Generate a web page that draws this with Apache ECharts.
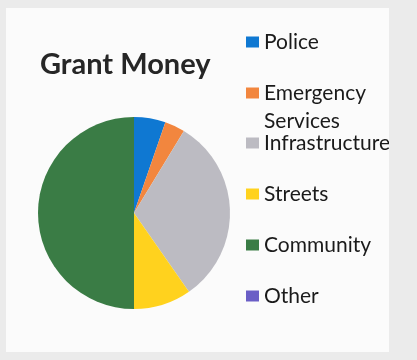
<!DOCTYPE html>
<html>
<head>
<meta charset="utf-8">
<script src="https://cdn.jsdelivr.net/npm/echarts@6/dist/echarts.min.js"></script>
<style>
  html, body { margin: 0; padding: 0; background: #ebebeb; width: 417px; height: 360px; overflow: hidden; }
  #chart { position: absolute; left: 6px; top: 8px; width: 383px; height: 344px; background: #fbfbfb; }
</style>
</head>
<body>
<div id="chart"></div>
<script>
// Grant money split by program area (percent of total)
const categories = ['Police', 'Emergency Services', 'Infrastructure', 'Streets', 'Community', 'Other'];
const shares = [5.3, 3.4, 31.6, 9.7, 50.0, 0];
const sliceColors = ['#0f78d2', '#f2863e', '#bcbbc2', '#ffd21e', '#3a7c45', '#6a5ec6'];
const chartTitle = 'Grant Money';

const chart = echarts.init(document.getElementById('chart'));

const legendFont = { fontFamily: 'Lato', fontSize: 21, color: '#1a1a1a', lineHeight: 24 };
const legendBase = {
  orient: 'vertical',
  left: 240,
  padding: 0,
  itemWidth: 13,
  itemHeight: 11,
  icon: 'rect',
  selectedMode: false,
  textStyle: legendFont
};

chart.setOption({
  color: sliceColors,
  title: {
    text: chartTitle,
    left: 34,
    top: 42,
    padding: 0,
    textStyle: { fontFamily: 'Lato', fontWeight: 'bold', fontSize: 29, color: '#262626' }
  },
  legend: [
    Object.assign({}, legendBase, { top: 22, data: [categories[0]] }),
    // the long name wraps; a blank leading line keeps its first line level with the swatch
    Object.assign({}, legendBase, {
      top: 43,
      data: [categories[1]],
      formatter: name => '\n' + name.replace(' ', '\n'),
      textStyle: Object.assign({}, legendFont, { lineHeight: 28 })
    }),
    Object.assign({}, legendBase, { top: 123, itemGap: 27, data: categories.slice(2) })
  ],
  series: [{
    type: 'pie',
    center: [128, 205],
    radius: 96,
    startAngle: 90,
    clockwise: true,
    label: { show: false },
    labelLine: { show: false },
    emphasis: { disabled: true },
    itemStyle: { borderWidth: 0 },
    data: categories.map((name, i) => ({ name, value: shares[i] }))
  }]
});
</script>
</body>
</html>
